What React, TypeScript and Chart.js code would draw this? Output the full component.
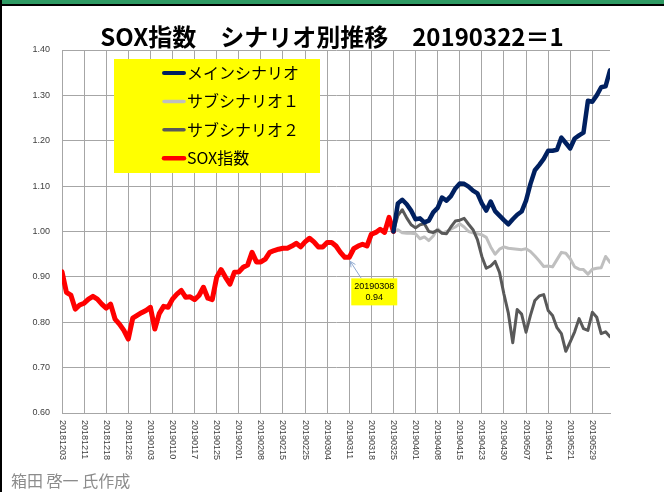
import React, { useEffect, useRef } from 'react';
import { Chart, registerables } from 'chart.js';

Chart.register(...registerables);

const TITLE = 'SOX指数　シナリオ別推移　20190322＝1';
const CREDIT = '箱田 啓一 氏作成';

const TICK_EVERY = 5;
const TICK_LABELS = [
  '20181203', '20181211', '20181218', '20181226', '20190103', '20190110', '20190117',
  '20190125', '20190201', '20190208', '20190215', '20190225', '20190304', '20190311',
  '20190318', '20190325', '20190401', '20190408', '20190415', '20190423', '20190430',
  '20190507', '20190514', '20190521', '20190529',
];

const SERIES_NAMES = ['メインシナリオ', 'サブシナリオ１', 'サブシナリオ２', 'SOX指数'];
const SERIES_COLORS = ['#002060', '#BFBFBF', '#595959', '#FF0000'];
const SERIES_WIDTHS = [4.5, 3, 3, 5];

// SOX index, normalised so that 20190322 = 1 (index 0 .. 75)
const SOX = [
  0.911, 0.866, 0.860, 0.829, 0.838, 0.842, 0.851, 0.857, 0.851, 0.840,
  0.831, 0.840, 0.807, 0.796, 0.782, 0.763, 0.809, 0.815, 0.821, 0.826,
  0.833, 0.785, 0.819, 0.835, 0.833, 0.851, 0.862, 0.870, 0.855, 0.856,
  0.850, 0.859, 0.877, 0.853, 0.850, 0.899, 0.916, 0.899, 0.884, 0.910,
  0.911, 0.921, 0.926, 0.954, 0.933, 0.933, 0.939, 0.954, 0.958, 0.961,
  0.963, 0.963, 0.968, 0.974, 0.966, 0.977, 0.985, 0.977, 0.966, 0.966,
  0.976, 0.976, 0.968, 0.954, 0.943, 0.943, 0.962, 0.968, 0.972, 0.968,
  0.994, 0.998, 1.005, 0.998, 1.031, 1.000,
];

// Scenarios start where the SOX series ends
const SCENARIO_START = 75;

const MAIN = [
  1.000, 1.062, 1.070, 1.060, 1.046, 1.027, 1.029, 1.020, 1.024, 1.042,
  1.052, 1.075, 1.068, 1.078, 1.095, 1.106, 1.105, 1.099, 1.090, 1.084,
  1.062, 1.046, 1.066, 1.045, 1.035, 1.025, 1.016, 1.027, 1.037, 1.044,
  1.068, 1.105, 1.135, 1.147, 1.160, 1.178, 1.178, 1.180, 1.207, 1.195,
  1.183, 1.205, 1.212, 1.218, 1.288, 1.286, 1.300, 1.318, 1.320, 1.355,
];

const SUB1 = [
  1.000, 1.004, 0.997, 0.996, 0.996, 0.995, 0.984, 0.988, 0.980, 0.990,
  1.006, 0.996, 1.000, 1.005, 1.010, 1.017, 1.010, 1.000, 0.997, 0.995,
  0.993, 0.987, 0.966, 0.950, 0.961, 0.966, 0.963, 0.962, 0.961, 0.960,
  0.962, 0.956, 0.946, 0.935, 0.923, 0.924, 0.922, 0.938, 0.954, 0.952,
  0.940, 0.922, 0.917, 0.916, 0.906, 0.917, 0.919, 0.920, 0.945, 0.932,
];

const SUB2 = [
  1.000, 1.035, 1.048, 1.030, 1.015, 1.008, 1.015, 1.017, 1.000, 0.998,
  1.003, 0.996, 0.995, 1.010, 1.023, 1.025, 1.029, 1.016, 1.004, 0.982,
  0.945, 0.919, 0.924, 0.934, 0.910, 0.862, 0.820, 0.755, 0.828, 0.818,
  0.778, 0.815, 0.848, 0.858, 0.861, 0.826, 0.815, 0.788, 0.775, 0.736,
  0.757, 0.779, 0.808, 0.786, 0.782, 0.822, 0.811, 0.775, 0.779, 0.768,
];

const Y_MIN = 0.6;
const Y_MAX = 1.4;
const Y_STEP = 0.1;

const NOTE_INDEX = 65;
const NOTE_DATE = '20190308';
const NOTE_VALUE = '0.94';

const toPoints = (values: number[], start: number) =>
  values.map((v, i) => ({ x: start + i, y: v }));

const LAST_INDEX = SCENARIO_START + MAIN.length - 1;

const JP = '"Noto Sans CJK JP", "Noto Sans", sans-serif';
const LAT = '"Liberation Sans", Arial, sans-serif';

const decorPlugin = {
  id: 'decor',
  afterDraw(chart: any) {
    const { ctx, chartArea, scales } = chart;
    const xs = scales.x;
    const ys = scales.y;

    // title
    ctx.save();
    ctx.font = `bold 24px ${JP}`;
    ctx.fillStyle = '#000000';
    ctx.textAlign = 'center';
    ctx.textBaseline = 'alphabetic';
    ctx.fillText(TITLE, chart.width / 2, 46);
    ctx.restore();

    // x tick labels, rotated to read top-to-bottom
    ctx.save();
    ctx.font = `9px ${LAT}`;
    ctx.fillStyle = '#404040';
    ctx.textAlign = 'left';
    ctx.textBaseline = 'middle';
    TICK_LABELS.forEach((lab, k) => {
      const px = xs.getPixelForValue(k * TICK_EVERY);
      ctx.save();
      ctx.translate(px, chartArea.bottom + 7);
      ctx.rotate(Math.PI / 2);
      ctx.fillText(lab, 0, 0);
      ctx.restore();
    });
    ctx.restore();

    // legend box
    const lx = chartArea.left + 52;
    const ly = chartArea.top + 9;
    const lw = 206;
    const lh = 114;
    ctx.save();
    ctx.fillStyle = '#FFFF00';
    ctx.fillRect(lx, ly, lw, lh);
    ctx.font = `16px ${JP}`;
    ctx.fillStyle = '#000000';
    ctx.textAlign = 'left';
    ctx.textBaseline = 'middle';
    SERIES_NAMES.forEach((name, i) => {
      const cy = ly + 14 + i * 28.4;
      ctx.strokeStyle = SERIES_COLORS[i];
      ctx.lineWidth = Math.max(3.5, SERIES_WIDTHS[i] - 0.5);
      ctx.lineCap = 'round';
      ctx.beginPath();
      ctx.moveTo(lx + 50, cy);
      ctx.lineTo(lx + 70, cy);
      ctx.stroke();
      ctx.fillText(name, lx + 73, cy);
    });
    ctx.restore();

    // annotation callout
    const px = xs.getPixelForValue(NOTE_INDEX);
    const py = ys.getPixelForValue(SOX[NOTE_INDEX]);
    const bx = px + 2;
    const by = py + 21;
    const bw = 46;
    const bh = 27;
    ctx.save();
    ctx.strokeStyle = '#8EA9D0';
    ctx.lineWidth = 1;
    const tx = px + 1;
    const ty = py + 4;
    const sx = px + 12;
    const sy = by;
    ctx.beginPath();
    ctx.moveTo(sx, sy);
    ctx.lineTo(tx, ty);
    ctx.stroke();
    const ang = Math.atan2(ty - sy, tx - sx);
    const ah = 6;
    ctx.beginPath();
    ctx.moveTo(tx - ah * Math.cos(ang - 0.45), ty - ah * Math.sin(ang - 0.45));
    ctx.lineTo(tx, ty);
    ctx.lineTo(tx - ah * Math.cos(ang + 0.45), ty - ah * Math.sin(ang + 0.45));
    ctx.stroke();
    ctx.fillStyle = '#FFFF00';
    ctx.fillRect(bx, by, bw, bh);
    ctx.fillStyle = '#000000';
    ctx.font = `9px ${LAT}`;
    ctx.textAlign = 'center';
    ctx.textBaseline = 'middle';
    ctx.fillText(NOTE_DATE, bx + bw / 2, by + 8);
    ctx.fillText(NOTE_VALUE, bx + bw / 2, by + 19);
    ctx.restore();

    // credit
    ctx.save();
    ctx.font = `16px ${JP}`;
    ctx.fillStyle = '#8C8C8C';
    ctx.textAlign = 'left';
    ctx.textBaseline = 'alphabetic';
    ctx.fillText(CREDIT, 11, 487);
    ctx.restore();
  },
};

export default function App() {
  const canvasRef = useRef<HTMLCanvasElement | null>(null);

  useEffect(() => {
    const canvas = canvasRef.current;
    if (!canvas) return;
    const lineDs = (i: number, data: any[]) => ({
      label: SERIES_NAMES[i],
      data,
      borderColor: SERIES_COLORS[i],
      backgroundColor: SERIES_COLORS[i],
      borderWidth: SERIES_WIDTHS[i],
      pointRadius: 0,
      tension: 0,
      borderCapStyle: 'round' as const,
      borderJoinStyle: 'round' as const,
      fill: false,
    });
    const chart = new Chart(canvas, {
      type: 'line',
      data: {
        datasets: [
          lineDs(0, toPoints(MAIN, SCENARIO_START)),
          lineDs(3, toPoints(SOX, 0)),
          lineDs(2, toPoints(SUB2, SCENARIO_START)),
          lineDs(1, toPoints(SUB1, SCENARIO_START)),
        ],
      },
      options: {
        responsive: false,
        devicePixelRatio: 1,
        animation: false,
        events: [],
        layout: { padding: { left: 12, right: 54, top: 50, bottom: 79 } },
        plugins: {
          legend: { display: false },
          tooltip: { enabled: false },
          title: { display: false },
        },
        scales: {
          x: {
            type: 'linear',
            min: 0,
            max: LAST_INDEX,
            ticks: { display: false },
            grid: { color: '#A6A6A6', lineWidth: 1, drawTicks: false },
            border: { color: '#A6A6A6' },
            afterBuildTicks: (s: any) => {
              s.ticks = TICK_LABELS.map((_, k) => ({ value: k * TICK_EVERY }));
            },
            afterFit: (s: any) => {
              s.height = 0;
            },
          },
          y: {
            type: 'linear',
            min: Y_MIN,
            max: Y_MAX,
            ticks: {
              stepSize: Y_STEP,
              padding: 12,
              color: '#404040',
              font: { size: 9, family: LAT },
              callback: (v: any) => Number(v).toFixed(2),
            },
            grid: { color: '#A6A6A6', lineWidth: 1, drawTicks: false },
            border: { color: '#A6A6A6' },
            afterFit: (s: any) => {
              s.width = 50;
            },
          },
        },
      },
      plugins: [decorPlugin],
    });
    return () => chart.destroy();
  }, []);

  return (
    <div style={{ position: 'absolute', left: 0, top: 0, width: 664, height: 492, background: '#ffffff', overflow: 'hidden' }}>
      <canvas ref={canvasRef} width={664} height={492} style={{ position: 'absolute', left: 0, top: 0 }} />
      <div style={{ position: 'absolute', left: 0, top: 0, width: 664, height: 4, background: '#2E9A63' }} />
      <div style={{ position: 'absolute', left: 0, top: 4, width: 664, height: 2, background: '#000000' }} />
      <div style={{ position: 'absolute', left: 0, top: 0, width: 2, height: 492, background: '#000000' }} />
    </div>
  );
}
